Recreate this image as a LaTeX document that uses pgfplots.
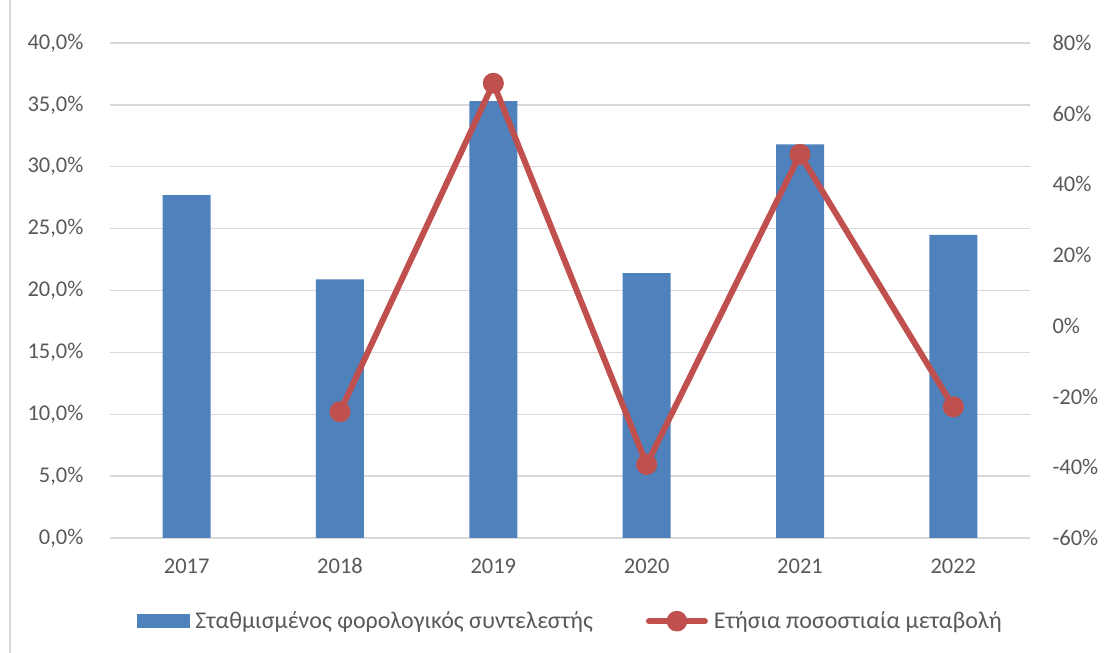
\documentclass[border=0pt]{standalone}
\usepackage{fontspec}
\setmainfont{Carlito}
\usepackage{pgfplots}
\pgfplotsset{compat=1.18}
\definecolor{barblue}{HTML}{4F81BD}
\definecolor{linered}{HTML}{C0504D}
\definecolor{gridgray}{HTML}{D9D9D9}
\definecolor{txtgray}{HTML}{595959}

\pgfplotsset{
  common/.style={
    scale only axis, width=920pt, height=495pt,
    xmin=-0.5, xmax=5.5,
    axis line style={draw=none},
    major tick style={draw=none},
    tick label style={text=txtgray, font=\fontsize{22.5}{27}\selectfont},
  },
}

\begin{document}
\begin{tikzpicture}
% weighted tax rate (left axis)
\begin{axis}[
  common, name=main,
  ymin=0, ymax=40,
  xtick={0,1,2,3,4,5},
  xticklabels={2017,2018,2019,2020,2021,2022},
  ytick={0,5,10,15,20,25,30,35,40},
  yticklabels={{0,0\%},{5,0\%},{10,0\%},{15,0\%},{20,0\%},{25,0\%},{30,0\%},{35,0\%},{40,0\%}},
  ymajorgrids,
  grid style={gridgray, line width=1.3pt},
  yticklabel style={xshift=-23pt},
  xticklabel style={yshift=-21pt, text height=11pt, text depth=0pt},
]
\addplot[ybar, bar width=48pt, fill=barblue, draw=none]
  coordinates {(0,27.7) (1,20.9) (2,35.3) (3,21.4) (4,31.8) (5,24.5)};
\end{axis}

% annual percentage change (right axis)
\begin{axis}[
  common,
  at={(main.south west)}, anchor=south west,
  ymin=-60, ymax=80,
  axis y line*=right,
  xtick=\empty,
  ytick={-60,-40,-20,0,20,40,60,80},
  yticklabels={-60\%,-40\%,-20\%,0\%,20\%,40\%,60\%,80\%},
  yticklabel style={xshift=19pt},
  legend columns=2,
  legend style={
    at={(0.5005,-0.168)}, anchor=center,
    draw=none, fill=none,
    font=\fontsize{24}{28}\selectfont,
    text=txtgray,
    /tikz/every odd column/.append style={column sep=4pt},
    /tikz/every even column/.append style={column sep=51pt},
  },
  legend cell align=left,
]
\addlegendimage{legend image code/.code={
  \fill[barblue] (0pt,-6.5pt) rectangle (52pt,6.5pt);}}
\addlegendentry{Σταθμισμένος φορολογικός συντελεστής}
\addplot[linered, line width=6pt, line cap=round, line join=round,
  mark=*, mark size=7.5pt, mark options={fill=linered, draw=none},
  legend image code/.code={
    \draw[linered, line width=6pt, line cap=round] (0pt,0pt) -- (56pt,0pt);
    \fill[linered] (28pt,0pt) circle (7.3pt);}]
  coordinates {(1,-24.3) (2,68.6) (3,-39.2) (4,48.5) (5,-22.9)};
\addlegendentry{Ετήσια ποσοστιαία μεταβολή}
\end{axis}

% page extent and chart frame, measured from the plot area
\pgfresetboundingbox
\path ([xshift=-110pt,yshift=-115pt]main.south west) rectangle ++(1104pt,653pt);
\begin{scope}
\clip ([xshift=-110pt,yshift=-115pt]main.south west) rectangle ++(1104pt,653pt);
\draw[gridgray, line width=1.5pt]
  ([xshift=-100pt,yshift=-130pt]main.south west) |- ([xshift=1010pt,yshift=100pt]main.north west);
\end{scope}
\end{tikzpicture}
\end{document}
